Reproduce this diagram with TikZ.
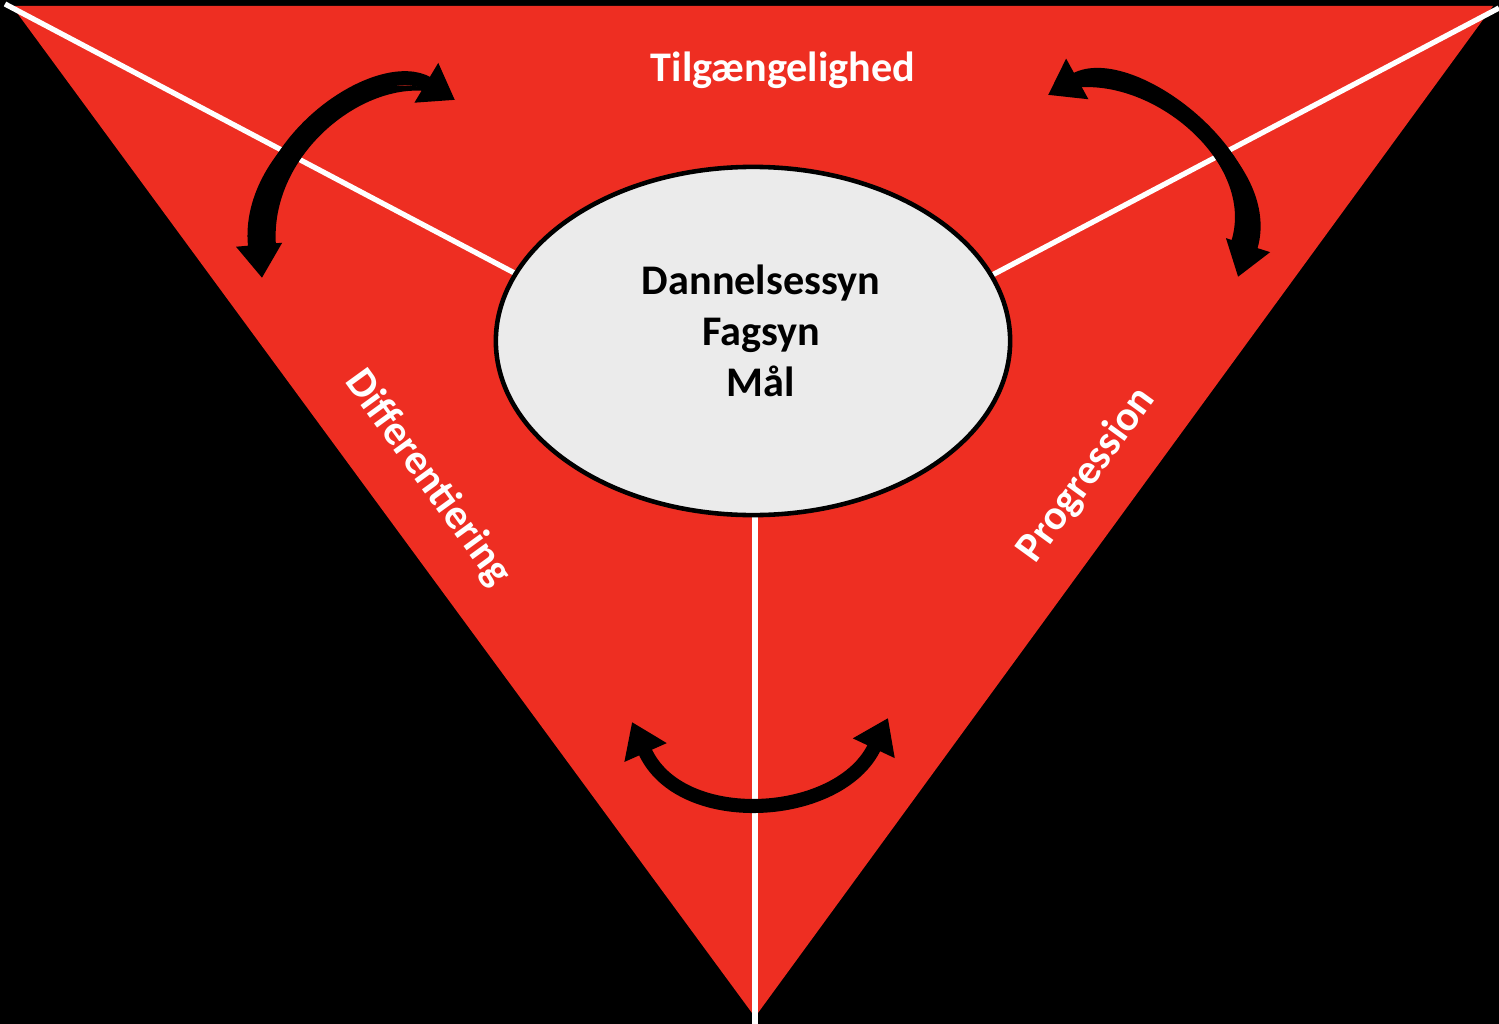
\documentclass[tikz,border=0pt]{standalone}
\usepackage{fontspec}
\setmainfont{Carlito}
\usetikzlibrary{arrows.meta,shapes.geometric}

\definecolor{trired}{HTML}{EE2E22}
\definecolor{coregray}{HTML}{EBEBEB}

\tikzset{
  divider/.style={white,line width=1.5pt},
  swing/.style={line width=4pt,
    {Triangle[length=9.5pt,width=12.5pt]}-{Triangle[length=9.5pt,width=12.5pt]}},
  swell/.style={fill=black},
  sidelabel/.style={white,font=\bfseries\fontsize{12}{14}\selectfont},
}

\begin{document}
\begin{tikzpicture}[x=0.01cm,y=-0.01cm]

% Black background, fixes the page size
\fill[black] (0,0) rectangle (1499,1024);
\useasboundingbox (0,0) rectangle (1499,1024);

% Corners of the triangle
\coordinate (tl) at (12,6);
\coordinate (tr) at (1493,6);
\coordinate (apex) at (755,1017);
\fill[trired] (tl) -- (tr) -- (apex) -- cycle;

% White dividers meeting under the ellipse
\coordinate (hub) at (755,400);
\coordinate (tlend) at (5,4);
\coordinate (trend) at (1499,8);
\coordinate (bottom) at (755,1024);
\draw[divider] (tlend) -- (hub);
\draw[divider] (trend) -- (hub);
\draw[divider] (hub) -- (bottom);

% Centre ellipse
\node[ellipse,draw=black,line width=1.3pt,fill=coregray,
      minimum width=5.14cm,minimum height=3.48cm] (core) at (753,341) {};
\node[align=center,font=\bfseries\fontsize{12}{14.5}\selectfont]
      (coretext) at (761,331) {Dannelsessyn\\Fagsyn\\Mål};

% Side labels
\node[sidelabel] (access) at (783,70) {Tilgængelighed};
\node[sidelabel,rotate=-54] (diff) at (428,478) {Differentiering};
\node[sidelabel,rotate=54] (prog) at (1087,475) {Progression};

% Curved double arrows (thin line + heads)
\coordinate (la) at (262,278);
\coordinate (lb) at (455,100);
\draw[swing] (la) .. controls (250,140) and (380,55) .. (lb);
\coordinate (ra) at (1048,95);
\coordinate (rb) at (1238,277);
\draw[swing] (ra) .. controls (1130,50) and (1275,160) .. (rb);
\coordinate (ba) at (632,722);
\coordinate (bb) at (888,718);
\draw[swing] (ba) .. controls (680,830) and (840,820) .. (bb);

% Thicker lower ends of the two top arrows
\fill[swell] (248,246) .. controls (238,145) and (374,48) .. (lb)
  .. controls (386,62) and (268,145) .. (276,246) -- cycle;
\fill[swell] (ra) .. controls (1128,42) and (1290,158) .. (1256,253)
  -- (1230,245) .. controls (1262,158) and (1132,58) .. (ra) -- cycle;

\end{tikzpicture}
\end{document}
